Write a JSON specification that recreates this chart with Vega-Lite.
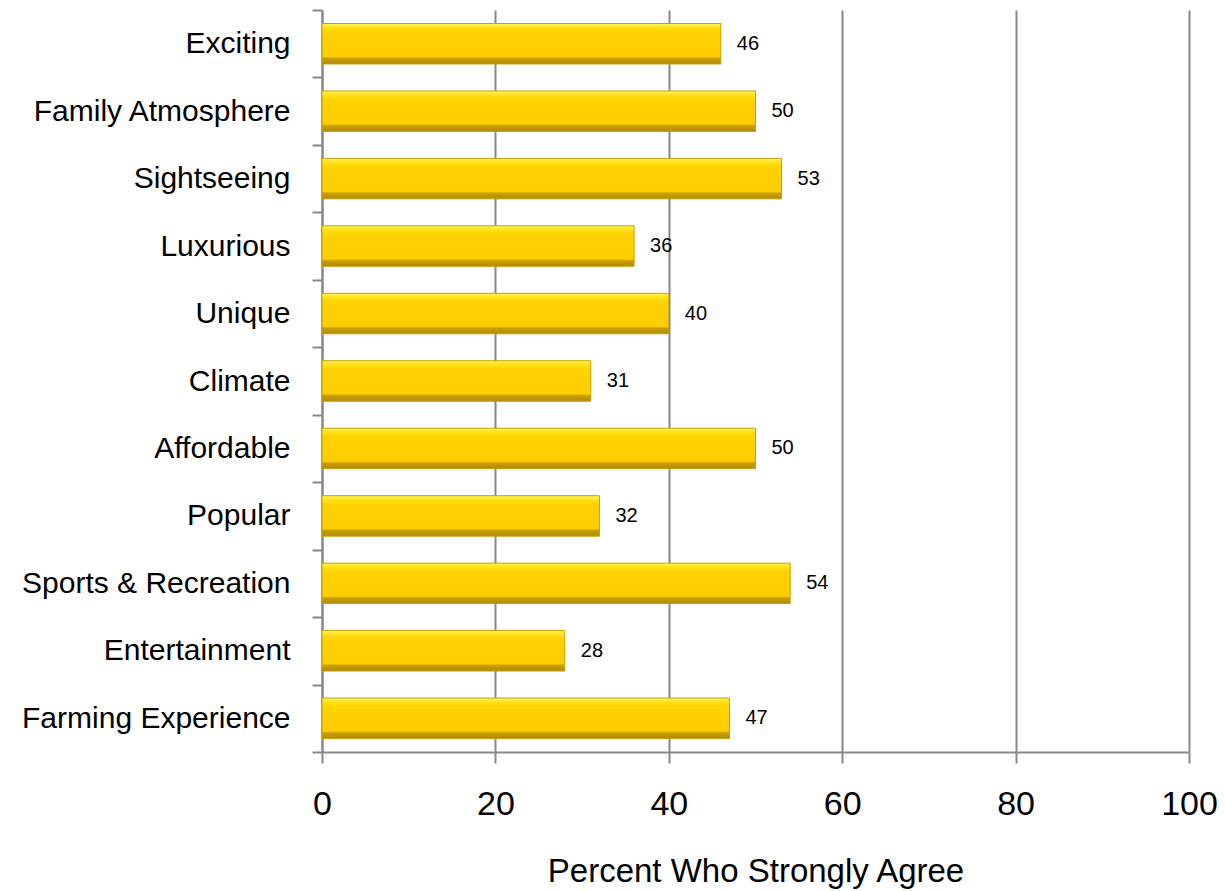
{
  "$schema": "https://vega.github.io/schema/vega-lite/v6.json",
  "width": 867,
  "height": 742,
  "autosize": {"type": "none"},
  "padding": {"left": 322, "top": 10, "right": 37, "bottom": 139},
  "background": "white",
  "config": {
    "view": {"stroke": null},
    "font": "Liberation Sans"
  },
  "data": {
    "values": [
      {"attribute": "Exciting", "percent": 46},
      {"attribute": "Family Atmosphere", "percent": 50},
      {"attribute": "Sightseeing", "percent": 53},
      {"attribute": "Luxurious", "percent": 36},
      {"attribute": "Unique", "percent": 40},
      {"attribute": "Climate", "percent": 31},
      {"attribute": "Affordable", "percent": 50},
      {"attribute": "Popular", "percent": 32},
      {"attribute": "Sports & Recreation", "percent": 54},
      {"attribute": "Entertainment", "percent": 28},
      {"attribute": "Farming Experience", "percent": 47}
    ]
  },
  "encoding": {
    "y": {
      "field": "attribute",
      "type": "nominal",
      "sort": null,
      "scale": {"paddingInner": 0, "paddingOuter": 0},
      "axis": {
        "title": null,
        "domainColor": "#888888",
        "domainWidth": 2,
        "tickColor": "#888888",
        "tickWidth": 2,
        "tickSize": 10,
        "tickBand": "extent",
        "labelFontSize": 30,
        "labelColor": "#000000",
        "labelPadding": 22,
        "labelLimit": 400,
        "grid": false
      }
    },
    "x": {
      "field": "percent",
      "type": "quantitative",
      "scale": {"domain": [0, 100], "nice": false},
      "axis": {
        "values": [0, 20, 40, 60, 80, 100],
        "title": "Percent Who Strongly Agree",
        "titleFontSize": 33,
        "titleFontWeight": "normal",
        "titleColor": "#000000",
        "titlePadding": 34,
        "grid": true,
        "gridColor": "#888888",
        "gridWidth": 2,
        "domainColor": "#888888",
        "domainWidth": 2,
        "tickColor": "#888888",
        "tickWidth": 2,
        "tickSize": 11,
        "labelFlush": false,
        "labelFontSize": 34,
        "labelFontWeight": 500,
        "labelColor": "#000000",
        "labelPadding": 24
      }
    }
  },
  "layer": [
    {
      "mark": {
        "type": "bar",
        "height": {"band": 0.6},
        "stroke": "#C9A000",
        "strokeWidth": 1,
        "color": {
          "gradient": "linear",
          "x1": 0, "y1": 0, "x2": 0, "y2": 1,
          "stops": [
            {"offset": 0, "color": "#FFF35A"},
            {"offset": 0.1, "color": "#FFE21A"},
            {"offset": 0.2, "color": "#FFD200"},
            {"offset": 0.82, "color": "#FFCC00"},
            {"offset": 0.86, "color": "#C9A000"},
            {"offset": 1, "color": "#B0880E"}
          ]
        }
      }
    },
    {
      "mark": {
        "type": "text",
        "align": "left",
        "baseline": "middle",
        "dx": 16,
        "fontSize": 20,
        "color": "#000000"
      },
      "encoding": {
        "text": {"field": "percent", "type": "quantitative"}
      }
    }
  ]
}
